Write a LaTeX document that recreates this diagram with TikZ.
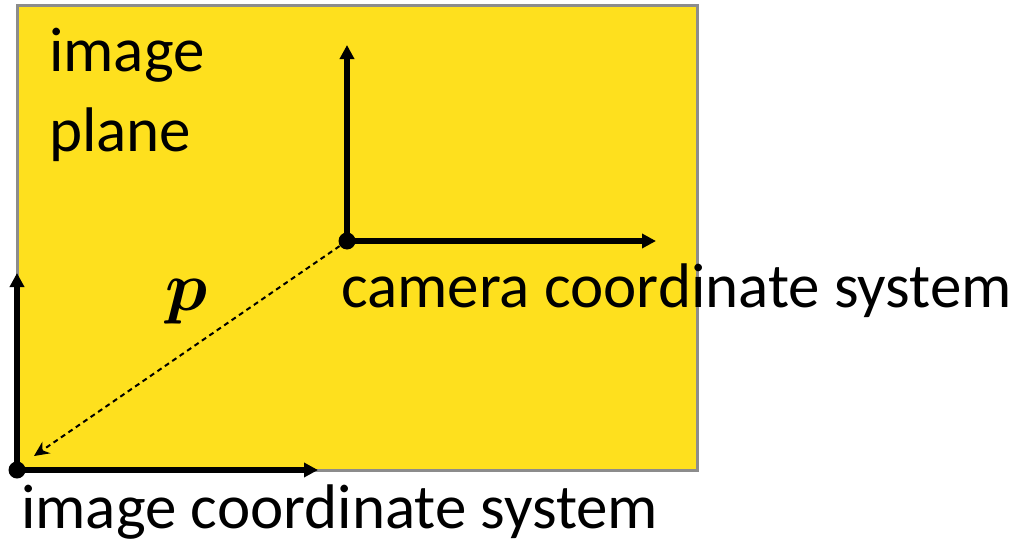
\documentclass[tikz,border=0pt]{standalone}
\usepackage{amsmath}
\usepackage{bm}
\usepackage{graphicx}
\usepackage{fontspec}
\setmainfont{Carlito}
\usepackage{tikz}
\usetikzlibrary{arrows.meta,positioning}
\definecolor{planeyellow}{RGB}{254,224,30}
\definecolor{planeedge}{RGB}{140,140,140}
\tikzset{
  plane/.style={draw=planeedge, line width=3pt, fill=planeyellow},
  axis/.style={-{Triangle[length=14pt,width=14pt]}, draw=black, line width=5.5pt},
  origin/.style={circle, fill=black, minimum size=17pt, inner sep=0pt},
  offset/.style={-{Stealth[length=15pt,width=14pt]}, draw=black, line width=2pt, dash pattern=on 5pt off 4pt},
  biglabel/.style={font=\fontsize{63}{80}\selectfont, inner sep=0pt}
}
\begin{document}
\begin{tikzpicture}[x=1pt,y=-1pt]
  \useasboundingbox (0,0) rectangle (1016,543);
  \draw[plane] (17,6) rectangle (697,470);

  \node[biglabel, anchor=base west] (planelabel1) at (49,71) {image};
  \node[biglabel, anchor=base west] (planelabel2) at (49,151) {plane};

  % camera frame
  \node[origin] (cam) at (347,241) {};
  \coordinate (camup) at (347,45);
  \coordinate (camright) at (656,241);
  \draw[axis] (cam.center) -- (camup);
  \draw[axis] (cam.center) -- (camright);
  \node[biglabel, anchor=base west] (camlabel) at (341,307) {camera coordinate system};

  % image frame
  \node[origin] (img) at (17,470) {};
  \coordinate (imgup) at (17,273);
  \coordinate (imgright) at (318,470);
  \draw[axis] (img.center) -- (imgup);
  \draw[axis] (img.center) -- (imgright);
  \node[biglabel, anchor=base west] (imglabel) at (21,528) {image coordinate system};

  % offset vector
  \coordinate (ptip) at (34,456);
  \draw[offset] (cam.center) -- (ptip);
  \node[inner sep=0pt] (plabel) at (187,302) {\scalebox{7}{$\bm{p}$}};
\end{tikzpicture}
\end{document}
